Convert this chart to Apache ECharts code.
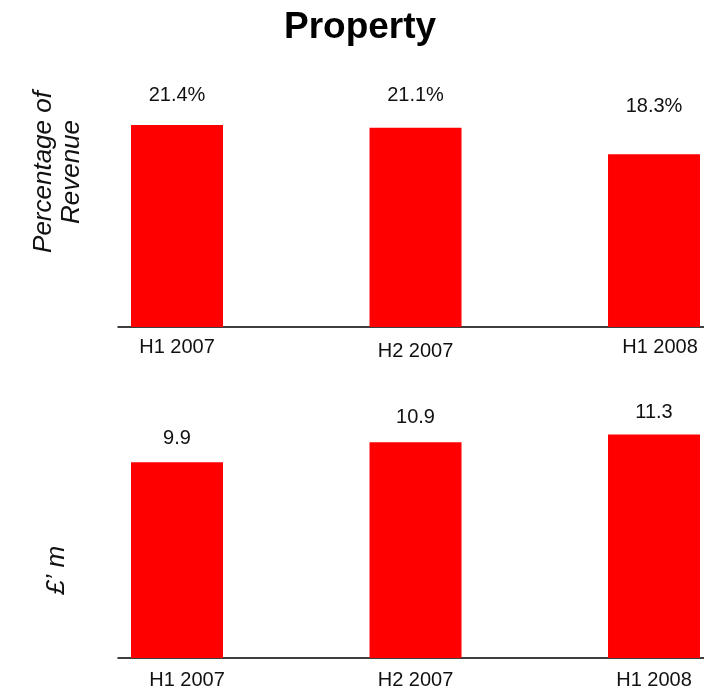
<!DOCTYPE html>
<html>
<head>
<meta charset="utf-8">
<title>Property</title>
<script src="https://cdn.jsdelivr.net/npm/echarts@6/dist/echarts.min.js"></script>
<style>
  html, body { margin: 0; padding: 0; background: #ffffff; }
  #chart { width: 704px; height: 690px; }
</style>
</head>
<body>
<div id="chart"></div>
<script>
// Half-year periods shared by both panels
const categories = ['H1 2007', 'H2 2007', 'H1 2008'];
// Property revenue as a share of total revenue (%)
const pctRevenue = [21.4, 21.1, 18.3];
// Property revenue in £ millions
const revenueGbp = [9.9, 10.9, 11.3];

// Styling: gap between each bar top and its value label (px)
const topLabelGap = [19, 22, 38];
const bottomLabelGap = [14, 15, 12];
// Per-category nudges of the axis labels: [top, left] padding in px
const topCatNudge = [[0, 0], [4, 0], [0, 12]];
const bottomCatNudge = [[2, 20], [2, 0], [2, 0]];

const FONT = '"Liberation Sans", Arial, sans-serif';
const RED = '#ff0000';
const INK = '#111111';

const chart = echarts.init(document.getElementById('chart'), null, { renderer: 'canvas' });

function catLabel(nudges) {
  const rich = {};
  nudges.forEach((n, i) => {
    rich['c' + i] = {
      fontFamily: FONT, fontSize: 20, color: INK,
      padding: [n[0], 0, 0, n[1]]
    };
  });
  return {
    show: true,
    customValues: [0, 1, 2],
    margin: 10,
    formatter: v => {
      const i = Math.round(v);
      return '{c' + i + '|' + categories[i] + '}';
    },
    rich: rich
  };
}

function xAxisFor(gridIndex, nudges) {
  return {
    type: 'value',
    gridIndex: gridIndex,
    min: -0.2474,
    max: 2.2096,
    axisLine: { show: true, onZero: false, lineStyle: { color: '#000', width: 1.5 } },
    axisTick: { show: false },
    splitLine: { show: false },
    axisLabel: catLabel(nudges)
  };
}

function barSeries(idx, values, gaps, fmt) {
  return {
    type: 'bar',
    xAxisIndex: idx,
    yAxisIndex: idx,
    barWidth: 92,
    itemStyle: { color: RED },
    label: {
      show: true,
      position: 'top',
      fontFamily: FONT,
      fontSize: 20,
      color: INK,
      formatter: p => fmt(p.value[1])
    },
    data: values.map((v, i) => ({ value: [i, v], label: { distance: gaps[i] } }))
  };
}

chart.setOption({
  animation: false,
  backgroundColor: '#ffffff',
  title: {
    text: 'Property',
    left: 279,
    top: 4,
    textStyle: { fontFamily: FONT, fontSize: 37, fontWeight: 'bold', color: '#000' }
  },
  grid: [
    { left: 118, right: 0, top: 91, bottom: 363 },
    { left: 118, right: 0, top: 420.6, bottom: 30 }
  ],
  xAxis: [xAxisFor(0, topCatNudge), xAxisFor(1, bottomCatNudge)],
  yAxis: [
    {
      type: 'value', gridIndex: 0, min: 0, max: 25,
      axisLine: { show: false }, axisTick: { show: false },
      axisLabel: { show: false }, splitLine: { show: false },
      name: 'Percentage of\nRevenue',
      nameLocation: 'middle',
      nameRotate: 90,
      nameGap: 32,
      nameTextStyle: {
        fontFamily: FONT, fontSize: 26, fontStyle: 'italic', color: INK,
        lineHeight: 28, padding: [0, 0, 0, 74]
      }
    },
    {
      type: 'value', gridIndex: 1, min: 0, max: 12,
      axisLine: { show: false }, axisTick: { show: false },
      axisLabel: { show: false }, splitLine: { show: false },
      name: '£\u2019 m',
      nameLocation: 'middle',
      nameRotate: 90,
      nameGap: 48,
      nameTextStyle: {
        fontFamily: FONT, fontSize: 26, fontStyle: 'italic', color: INK,
        padding: [0, 62, 0, 0]
      }
    }
  ],
  series: [
    barSeries(0, pctRevenue, topLabelGap, v => v.toFixed(1) + '%'),
    barSeries(1, revenueGbp, bottomLabelGap, v => v.toFixed(1))
  ]
});
</script>
</body>
</html>
